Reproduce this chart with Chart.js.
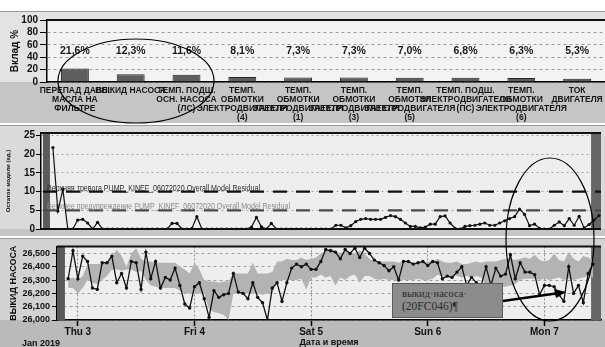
<!DOCTYPE html>
<html>
<head>
<meta charset="utf-8">
<script src="https://cdn.jsdelivr.net/npm/chart.js@4.4.1/dist/chart.umd.min.js"></script>
<style>
  html, body { margin: 0; padding: 0; background: #fff; }
  #wrap { position: relative; width: 605px; height: 347px; overflow: hidden; font-family: "Liberation Sans", Arial, sans-serif; }
  .panel { position: absolute; left: 0; width: 605px; border-top: 1px solid #9a9a9a; box-sizing: border-box; }
  #p1 { top: 11px; height: 112px; background: #e3e3e3; }
  #p2 { top: 125px; height: 111px; background: #dadada; }
  #p3 { top: 238px; height: 109px; background: #d2d2d2; }
  #overlay { position: absolute; left: 0; top: 0; pointer-events: none; }
</style>
</head>
<body>
<div id="wrap">
  <div class="panel" id="p1"><canvas id="contrib"></canvas></div>
  <div class="panel" id="p2"><canvas id="resid"></canvas></div>
  <div class="panel" id="p3"><canvas id="press"></canvas></div>
  <svg id="overlay" width="605" height="347">
    <ellipse cx="136" cy="81" rx="78" ry="42" fill="none" stroke="#000" stroke-width="1.2"/>
    <ellipse cx="550" cy="239.5" rx="44" ry="81.5" fill="none" stroke="#000" stroke-width="1.2"/>
    <rect x="392.5" y="283.5" width="110" height="34" fill="#8c8c8c" stroke="#5a5a5a" stroke-width="1"/>
    <text x="402" y="297" font-family="Liberation Serif, serif" font-size="10.5" fill="#2a2a2a">выкид·насоса·</text>
    <text x="402" y="310" font-family="Liberation Serif, serif" font-size="11.5" fill="#2a2a2a">(20FC046)¶</text>
    <line x1="503" y1="301" x2="556" y2="293.5" stroke="#000" stroke-width="2.5"/>
    <polygon points="566,292 554,289 556,298" fill="#000"/>
  </svg>
</div>
<script>
// ---- top: contribution of each signal, %
const categories = [
  ['ПЕРЕПАД ДАВЛ.', 'МАСЛА НА', 'ФИЛЬТРЕ'],
  ['ВЫКИД НАСОСА'],
  ['ТЕМП. ПОДШ.', 'ОСН. НАСОСА', '(ЛС)'],
  ['ТЕМП.', 'ОБМОТКИ', 'ЭЛЕКТРОДВИГАТЕЛЯ', '(4)'],
  ['ТЕМП.', 'ОБМОТКИ', 'ЭЛЕКТРОДВИГАТЕЛЯ', '(1)'],
  ['ТЕМП.', 'ОБМОТКИ', 'ЭЛЕКТРОДВИГАТЕЛЯ', '(3)'],
  ['ТЕМП.', 'ОБМОТКИ', 'ЭЛЕКТРОДВИГАТЕЛЯ', '(5)'],
  ['ТЕМП. ПОДШ.', 'ЭЛЕКТРОДВИГАТЕЛЯ', '(ПС)'],
  ['ТЕМП.', 'ОБМОТКИ', 'ЭЛЕКТРОДВИГАТЕЛЯ', '(6)'],
  ['ТОК', 'ДВИГАТЕЛЯ']
];
const contribution = [21.6, 12.3, 11.6, 8.1, 7.3, 7.3, 7.0, 6.8, 6.3, 5.3];
const contribTicks = [0, 20, 40, 60, 80, 100];

// ---- middle: overall model residual, hourly from Jan 2 22:00
const firstHour = -2;
const residual = [
  21.8, 4.8, 10.6, 0, 0, 2.4, 2.6, 1.6, 0, 1.8,
  0, 0, 0, 0, 0, 0, 0, 0, 0, 0,
  0, 0, 0, 0, 1.5, 1.5, 0, 0, 0.2, 3.3,
  0, 0, 0, 0, 0, 0, 0, 0, 0, 0,
  0.5, 3.1, 0.6, 0, 1.5, 0, 0, 0, 0, 0,
  0, 0, 0, 0, 0, 0, 0, 1.0, 1.0, 0.3,
  0.9, 2.0, 2.6, 2.8, 2.6, 2.6, 2.6, 3.1, 3.6, 3.3,
  2.6, 1.6, 0.7, 0.7, 0.3, 0.5, 1.3, 1.3, 3.3, 3.5,
  1.6, 0.2, 0, 0.7, 0.9, 1.0, 1.3, 1.6, 1.0, 1.0,
  1.6, 2.2, 2.8, 3.3, 5.3, 3.9, 0.9, 1.3, 0.2, 0,
  0, 1.0, 1.9, 0.9, 2.8, 1.0, 3.4, 0.3, 1.2, 2.4,
  3.6
];
const residualTicks = [0, 5, 10, 15, 20, 25];
const alarmHigh = 10;
const warningHigh = 5;

// ---- bottom: pump discharge (actual) and model band, hourly
const discharge = [
  26310, 26520, 26310, 26480, 26440, 26240, 26230, 26430, 26430, 26480,
  26280, 26350, 26240, 26440, 26430, 26230, 26510, 26310, 26440, 26240,
  26320, 26300, 26390, 26260, 26120, 26090, 26250, 26280, 26160, 26020,
  26220, 26170, 26190, 26200, 26350, 26210, 26200, 26160, 26280, 26170,
  26130, 26000, 26240, 26280, 26140, 26280, 26390, 26420, 26400, 26420,
  26380, 26380, 26440, 26530, 26520, 26510, 26460, 26530, 26500, 26540,
  26470, 26540, 26500, 26450, 26430, 26410, 26370, 26400, 26300, 26440,
  26440, 26420, 26430, 26440, 26410, 26440, 26430, 26310, 26330, 26320,
  26360, 26400, 26260, 26320, 26280, 26260, 26400, 26260, 26390, 26330,
  26345, 26490, 26310, 26430, 26360, 26360, 26340, 26190, 26260, 26260,
  26250, 26190, 26140, 26400, 26200, 26260, 26130, 26350, 26420
];
const modelUpper = [
  26310, 26320, 26300, 26330, 26420, 26420, 26420, 26420, 26430, 26470,
  26530, 26480, 26400, 26500, 26540, 26460, 26440, 26440, 26430, 26430,
  26430, 26430, 26430, 26400, 26380, 26350, 26430, 26380, 26300, 26290,
  26290, 26280, 26290, 26290, 26350, 26350, 26350, 26350, 26430, 26350,
  26350, 26350, 26360, 26440, 26440, 26460, 26450, 26450, 26470, 26450,
  26460, 26470, 26500, 26520, 26540, 26520, 26500, 26520, 26510, 26500,
  26520, 26500, 26460, 26440, 26440, 26440, 26440, 26440, 26430, 26440,
  26440, 26430, 26430, 26430, 26440, 26440, 26460, 26440, 26430, 26430,
  26440, 26420, 26420, 26430, 26440, 26430, 26440, 26440, 26440, 26450,
  26460, 26460, 26450, 26460, 26470, 26460, 26490, 26450, 26440, 26450,
  26500, 26450, 26440, 26510, 26460, 26440, 26480, 26470, 26450
];
const modelLower = [
  26240, 26240, 26200, 26240, 26300, 26280, 26270, 26300, 26330, 26380,
  26380, 26370, 26380, 26380, 26360, 26370, 26300, 26260, 26250, 26240,
  26240, 26240, 26240, 26220, 26200, 26200, 26200, 26200, 26200, 26080,
  26060, 26050, 26040, 26000, 26200, 26200, 26210, 26200, 26200, 26200,
  26190, 26200, 26200, 26290, 26300, 26300, 26300, 26300, 26310, 26230,
  26320, 26320, 26340, 26320, 26330, 26260, 26320, 26300, 26330, 26340,
  26280, 26330, 26330, 26310, 26300, 26310, 26300, 26300, 26300, 26300,
  26300, 26300, 26310, 26300, 26300, 26310, 26340, 26330, 26320, 26330,
  26330, 26320, 26330, 26320, 26330, 26320, 26260, 26250, 26250, 26250,
  26250, 26260, 26270, 26300, 26310, 26310, 26310, 26300, 26310, 26300,
  26310, 26320, 26300, 26310, 26300, 26310, 26320, 26330, 26320
];
const pressureTicks = [26000, 26100, 26200, 26300, 26400, 26500];
const dayHours = [0, 24, 48, 72, 96];
const dayLabels = ['Thu 3', 'Fri 4', 'Sat 5', 'Sun 6', 'Mon 7'];

const FONT = '"Liberation Sans", Arial, sans-serif';
Chart.defaults.font.family = FONT;
Chart.defaults.color = '#111';
Chart.defaults.animation = false;

const toPoints = (arr) => arr.map((v, i) => ({ x: firstHour + i, y: v }));
const fmtPct = (v) => v.toFixed(1).replace('.', ',') + '%';

// backgrounds, shaded out-of-range bands and frame lines
const panelPlugin = {
  id: 'panel',
  beforeDraw(chart, args, opts) {
    const { ctx, chartArea: a, width, height } = chart;
    ctx.save();
    if (opts.below) {
      ctx.fillStyle = opts.below;
      ctx.fillRect(0, a.bottom, width, height - a.bottom);
    }
    ctx.fillStyle = opts.plot;
    ctx.fillRect(a.left, a.top, a.right - a.left, a.bottom - a.top);
    ctx.restore();
  },
  beforeDatasetsDraw(chart, args, opts) {
    const { ctx, chartArea: a } = chart;
    const x = chart.scales.x;
    ctx.save();
    (opts.bands || []).forEach(([from, to, color]) => {
      const x1 = Math.max(a.left, x.getPixelForValue(from));
      const x2 = Math.min(a.right, x.getPixelForValue(to));
      ctx.fillStyle = color;
      ctx.fillRect(x1, a.top, x2 - x1, a.bottom - a.top);
    });
    ctx.strokeStyle = '#111';
    if (opts.topLine) {
      ctx.lineWidth = opts.topLine;
      ctx.beginPath(); ctx.moveTo(a.left, a.top); ctx.lineTo(a.right, a.top); ctx.stroke();
    }
    if (opts.bottomLine) {
      ctx.lineWidth = opts.bottomLine;
      ctx.beginPath(); ctx.moveTo(a.left, a.bottom); ctx.lineTo(a.right, a.bottom); ctx.stroke();
    }
    ctx.restore();
  }
};

const pctPlugin = {
  id: 'pct',
  afterDatasetsDraw(chart, args, opts) {
    const { ctx } = chart;
    const { x, y } = chart.scales;
    ctx.save();
    ctx.font = 'bold 10.5px ' + FONT;
    ctx.fillStyle = '#1a1a1a';
    ctx.textAlign = 'center';
    ctx.textBaseline = 'middle';
    contribution.forEach((v, i) => {
      ctx.fillText(fmtPct(v), x.getPixelForValue(i), y.getPixelForValue(opts.at));
    });
    ctx.restore();
  }
};

const limitsPlugin = {
  id: 'limits',
  beforeDatasetsDraw(chart, args, opts) {
    const { ctx, chartArea: a } = chart;
    const y = chart.scales.y;
    opts.lines.forEach((l) => {
      const py = y.getPixelForValue(l.value);
      ctx.save();
      ctx.strokeStyle = l.color;
      ctx.lineWidth = 2.2;
      ctx.setLineDash([14, 9]);
      ctx.beginPath(); ctx.moveTo(a.left + 2, py); ctx.lineTo(a.right, py); ctx.stroke();
      ctx.setLineDash([]);
      ctx.font = '8.5px ' + FONT;
      ctx.fillStyle = l.textColor;
      ctx.textBaseline = 'alphabetic';
      ctx.fillText(l.text, 47, py + l.dy, l.width);
      ctx.restore();
    });
  }
};

const monthPlugin = {
  id: 'month',
  afterDraw(chart) {
    const { ctx } = chart;
    ctx.save();
    ctx.font = 'bold 9px ' + FONT;
    ctx.fillStyle = '#111';
    ctx.textBaseline = 'middle';
    ctx.fillText('Jan 2019', 22, 104.5);
    ctx.restore();
  }
};

// ---------- top chart
new Chart(document.getElementById('contrib'), {
  type: 'bar',
  data: {
    labels: categories,
    datasets: [{
      data: contribution,
      backgroundColor: '#5e5e5e',
      borderColor: '#262626',
      borderWidth: 1,
      categoryPercentage: 1,
      barPercentage: 0.5
    }]
  },
  options: {
    responsive: true,
    maintainAspectRatio: false,
    layout: { padding: { top: 4, left: 0, right: 0, bottom: 0 } },
    plugins: {
      legend: { display: false },
      tooltip: { enabled: false },
      panel: { plot: '#f3f3f3', below: '#c5c5c5', topLine: 2 },
      pct: { at: 50 }
    },
    scales: {
      x: {
        grid: { display: false },
        border: { display: true, color: '#000', width: 1.5 },
        ticks: {
          autoSkip: false, maxRotation: 0, minRotation: 0, padding: -4,
          color: '#151515',
          font: { size: 8.5, weight: 'bold', lineHeight: '9px' }
        },
        afterFit(s) { s.height = 41; }
      },
      y: {
        min: 0, max: 100,
        afterBuildTicks(s) { s.ticks = contribTicks.map((v) => ({ value: v })); },
        grid: { color: '#9a9a9a', tickColor: '#000', tickLength: 7 },
        border: { display: true, color: '#000', width: 1.5, dash: [3, 3] },
        ticks: { autoSkip: false, padding: 2, font: { size: 10, weight: 'bold' } },
        title: { display: true, text: 'Вклад %', font: { size: 10, weight: 'bold' }, padding: { top: 9, bottom: 0 } },
        afterFit(s) { s.width = 47; }
      }
    }
  },
  plugins: [panelPlugin, pctPlugin]
});

// ---------- middle chart
new Chart(document.getElementById('resid'), {
  type: 'line',
  data: {
    datasets: [{
      data: toPoints(residual),
      borderColor: '#111',
      borderWidth: 1.2,
      pointRadius: 1.6,
      pointBackgroundColor: '#111',
      pointBorderWidth: 0,
      tension: 0
    }]
  },
  options: {
    responsive: true,
    maintainAspectRatio: false,
    layout: { padding: { top: 4.3, left: 0, right: 0, bottom: 7 } },
    plugins: {
      legend: { display: false },
      tooltip: { enabled: false },
      panel: {
        plot: '#eeeeee', below: '#c6c6c6', topLine: 2, bottomLine: 2,
        bands: [[-4.0, -2.6, '#5b5b5b'], [106.4, 108.4, '#666666']]
      },
      limits: {
        lines: [
          { value: alarmHigh, color: '#111', textColor: '#2a2a2a', dy: -0.5, width: 213,
            text: 'Верхняя тревога PUMP_KINEF_06072020 Overall Model Residual' },
          { value: warningHigh, color: '#4a4a4a', textColor: '#8a8a8a', dy: -1, width: 243,
            text: 'Верхнее предупреждение PUMP_KINEF_06072020 Overall Model Residual' }
        ]
      }
    },
    scales: {
      x: { type: 'linear', display: false, min: -4.4, max: 108.4 },
      y: {
        min: 0, max: 25.7,
        afterBuildTicks(s) { s.ticks = residualTicks.map((v) => ({ value: v })); },
        grid: { color: '#a5a5a5', tickColor: '#000', tickLength: 5 },
        border: { display: true, color: '#000', width: 1.5, dash: [2, 3] },
        ticks: { autoSkip: false, padding: 1, font: { size: 10, weight: 'bold' } },
        title: { display: true, text: 'Остаток модели (ед.)', font: { size: 6, weight: 'bold', lineHeight: 1 }, padding: { top: 5, bottom: 0 } },
        afterFit(s) { s.width = 41; }
      }
    }
  },
  plugins: [panelPlugin, limitsPlugin]
});

// ---------- bottom chart
new Chart(document.getElementById('press'), {
  type: 'line',
  data: {
    datasets: [
      {
        data: toPoints(discharge),
        borderColor: '#111',
        borderWidth: 1.3,
        pointRadius: 1.7,
        pointBackgroundColor: '#111',
        pointBorderWidth: 0,
        tension: 0
      },
      {
        data: toPoints(modelUpper),
        borderWidth: 0,
        pointRadius: 0,
        backgroundColor: '#b3b3b3',
        fill: '+1',
        tension: 0
      },
      {
        data: toPoints(modelLower),
        borderWidth: 0,
        pointRadius: 0,
        fill: false,
        tension: 0
      }
    ]
  },
  options: {
    responsive: true,
    maintainAspectRatio: false,
    layout: { padding: { top: 4.5, left: 0, right: 0, bottom: 0 } },
    plugins: {
      legend: { display: false },
      tooltip: { enabled: false },
      panel: {
        plot: '#eeeeee', below: '#bababa', topLine: 2,
        bands: [[-4.29, -2.66, '#595959'], [105.6, 107.64, '#666666']]
      }
    },
    scales: {
      x: {
        type: 'linear', min: -4.29, max: 107.64,
        afterBuildTicks(s) { s.ticks = dayHours.map((v) => ({ value: v })); },
        grid: { color: '#8a8a8a', tickColor: '#000', tickLength: 6, tickWidth: 1.5 },
        border: { display: true, color: '#000', width: 1.5, dash: [2, 2] },
        ticks: {
          padding: 0, maxRotation: 0, autoSkip: false,
          font: { size: 10, weight: 'bold' },
          callback: (v) => dayLabels[dayHours.indexOf(v)]
        },
        title: { display: true, text: 'Дата и время', font: { size: 9, weight: 'bold', lineHeight: 1 }, padding: 0 },
        afterFit(s) { s.height = 27; }
      },
      y: {
        min: 26000, max: 26553,
        afterBuildTicks(s) { s.ticks = pressureTicks.map((v) => ({ value: v })); },
        grid: { color: '#9c9c9c', tickColor: '#000', tickLength: 5 },
        border: { display: true, color: '#000', width: 1.5, dash: [3, 3] },
        ticks: { autoSkip: false, padding: 2, font: { size: 9, weight: 'bold' } },
        title: { display: true, text: 'ВЫКИД НАСОСА', font: { size: 9, weight: 'bold' }, padding: { top: 8.6, bottom: 0 } },
        afterFit(s) { s.width = 57; }
      }
    }
  },
  plugins: [panelPlugin, monthPlugin]
});
</script>
</body>
</html>
